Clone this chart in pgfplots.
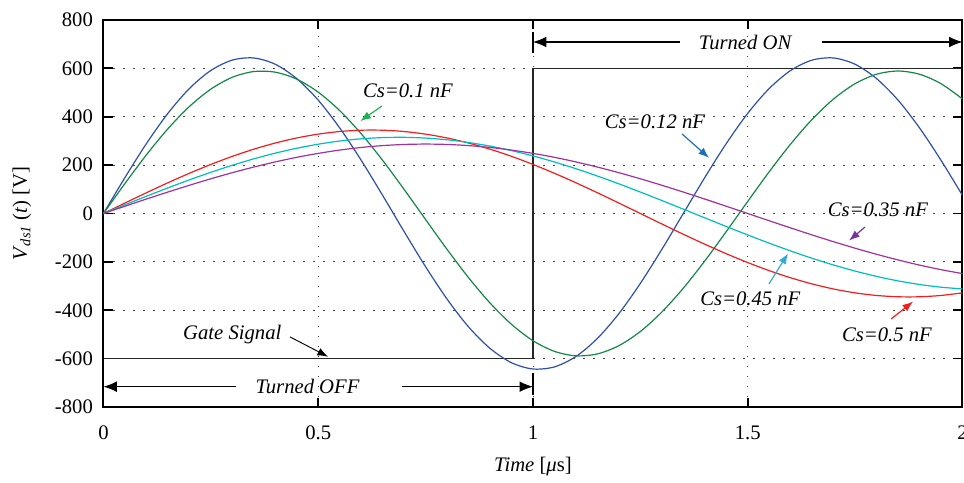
\documentclass[border=0pt]{standalone}
\usepackage{pgfplots}
\pgfplotsset{compat=1.18}
\usepackage{fontspec}
\setmainfont{Liberation Serif}
\usetikzlibrary{arrows.meta}
\definecolor{cblue}{RGB}{46,80,166}
\definecolor{cgreen}{RGB}{20,135,70}
\definecolor{cred}{RGB}{240,30,30}
\definecolor{ccyan}{RGB}{0,190,190}
\definecolor{cpurple}{RGB}{160,50,160}
\definecolor{agreen}{RGB}{30,180,80}
\definecolor{ablue}{RGB}{30,110,190}
\definecolor{apurple}{RGB}{120,50,160}
\definecolor{acyan}{RGB}{50,170,210}
\begin{document}
\fontsize{15.5}{18}\selectfont
\begin{tikzpicture}
\useasboundingbox (0,0) rectangle (723pt,361.5pt);
\begin{axis}[
  at={(77.6pt,56.25pt)}, anchor=south west,
  scale only axis, width=644.25pt, height=290.25pt,
  xmin=0, xmax=2, ymin=-800, ymax=800,
  xtick={0,0.5,1,1.5,2}, ytick={-800,-600,-400,-200,0,200,400,600,800},
  /pgf/number format/assume math mode=true,
  xticklabel style={yshift=-8.5pt, font=\fontsize{15.5}{18}\selectfont},
  yticklabel style={xshift=-2.6pt, font=\fontsize{15.5}{18}\selectfont},
  tick align=inside, major tick length=7pt,
  every tick/.style={black, line width=1.3pt},
  axis line style={black, line width=1.5pt},
  grid=major,
  major grid style={black!75, line width=0.6pt, dash pattern=on 0.8pt off 6.7pt},
  xlabel={\textit{Time} [\textit{μ}s]},
  xlabel style={at={(axis description cs:0.5,-0.153)}, anchor=center},
  ylabel={\textit{V}\textsubscript{\textit{ds1}} (\textit{t}) [V]},
  ylabel style={at={(axis description cs:-0.095,0.5)}, anchor=center},
]
\addplot[black!85, line width=0.8pt] coordinates {(0,-600) (1,-600) (1,600) (2,600)};

\addplot[cblue, line width=0.9pt, smooth] coordinates {(0,0) (0.05,148.5) (0.1,289.0) (0.15,414.0) (0.2,516.6) (0.25,591.3) (0.3,634.2) (0.35,642.9) (0.4,617.0) (0.45,557.7) (0.5,468.7) (0.55,353.9) (0.6,220.2) (0.65,74.8) (0.7,-74.8) (0.75,-220.2) (0.8,-353.9) (0.85,-468.7) (0.9,-557.7) (0.95,-617.0) (1.0,-642.9) (1.05,-634.2) (1.1,-591.3) (1.15,-516.6) (1.2,-414.0) (1.25,-289.0) (1.3,-148.5) (1.35,0) (1.4,148.5) (1.45,289.0) (1.5,414.0) (1.55,516.6) (1.6,591.3) (1.65,634.2) (1.7,642.9) (1.75,617.0) (1.8,557.7) (1.85,468.7) (1.9,353.9) (1.95,220.2) (2.0,74.8)};

\addplot[cgreen, line width=0.9pt, smooth] coordinates {(0,0) (0.05,124.1) (0.1,242.6) (0.15,350.2) (0.2,442.2) (0.25,514.2) (0.3,563.2) (0.35,586.9) (0.4,584.2) (0.45,555.4) (0.5,501.6) (0.55,425.4) (0.6,329.8) (0.65,219.6) (0.7,99.5) (0.75,-25.0) (0.8,-148.4) (0.85,-265.2) (0.9,-370.1) (0.95,-458.2) (1.0,-526.0) (1.05,-570.0) (1.1,-588.5) (1.15,-580.5) (1.2,-546.5) (1.25,-487.9) (1.3,-407.5) (1.35,-308.9) (1.4,-196.2) (1.45,-74.8) (1.5,49.9) (1.55,172.5) (1.6,287.3) (1.65,389.2) (1.7,473.5) (1.75,536.7) (1.8,575.7) (1.85,589.0) (1.9,575.7) (1.95,536.7) (2.0,473.5)};

\addplot[cred, line width=0.9pt, smooth] coordinates {(0,0) (0.05,43.2) (0.1,85.8) (0.15,127.0) (0.2,166.2) (0.25,202.8) (0.3,236.2) (0.35,265.8) (0.4,291.3) (0.45,312.2) (0.5,328.1) (0.55,338.9) (0.6,344.3) (0.65,344.3) (0.7,338.9) (0.75,328.1) (0.8,312.2) (0.85,291.3) (0.9,265.8) (0.95,236.2) (1.0,202.8) (1.05,166.2) (1.1,127.0) (1.15,85.8) (1.2,43.2) (1.25,0) (1.3,-43.2) (1.35,-85.8) (1.4,-127.0) (1.45,-166.2) (1.5,-202.8) (1.55,-236.2) (1.6,-265.8) (1.65,-291.3) (1.7,-312.2) (1.75,-328.1) (1.8,-338.9) (1.85,-344.3) (1.9,-344.3) (1.95,-338.9) (2.0,-328.1)};

\addplot[ccyan, line width=0.9pt, smooth] coordinates {(0,0) (0.05,35.9) (0.1,71.3) (0.15,105.9) (0.2,139.0) (0.25,170.3) (0.3,199.4) (0.35,225.9) (0.4,249.5) (0.45,269.7) (0.5,286.5) (0.55,299.6) (0.6,308.7) (0.65,313.8) (0.7,314.9) (0.75,311.8) (0.8,304.7) (0.85,293.5) (0.9,278.6) (0.95,260.0) (1.0,238.0) (1.05,213.0) (1.1,185.2) (1.15,154.9) (1.2,122.6) (1.25,88.7) (1.3,53.7) (1.35,18.0) (1.4,-18.0) (1.45,-53.7) (1.5,-88.7) (1.55,-122.6) (1.6,-154.9) (1.65,-185.2) (1.7,-213.0) (1.75,-238.0) (1.8,-260.0) (1.85,-278.6) (1.9,-293.5) (1.95,-304.7) (2.0,-311.8)};

\addplot[cpurple, line width=0.9pt, smooth] coordinates {(0,0) (0.05,30.0) (0.1,59.7) (0.15,88.7) (0.2,116.7) (0.25,143.5) (0.3,168.7) (0.35,192.0) (0.4,213.3) (0.45,232.2) (0.5,248.5) (0.55,262.2) (0.6,273.0) (0.65,280.7) (0.7,285.4) (0.75,287.0) (0.8,285.4) (0.85,280.7) (0.9,273.0) (0.95,262.2) (1.0,248.5) (1.05,232.2) (1.1,213.3) (1.15,192.0) (1.2,168.7) (1.25,143.5) (1.3,116.7) (1.35,88.7) (1.4,59.7) (1.45,30.0) (1.5,0) (1.55,-30.0) (1.6,-59.7) (1.65,-88.7) (1.7,-116.7) (1.75,-143.5) (1.8,-168.7) (1.85,-192.0) (1.9,-213.3) (1.95,-232.2) (2.0,-248.5)};

% Turned ON / OFF
\draw[black, line width=0.9pt, {Latex[length=10pt,width=8pt]}-] (axis cs:1,709) -- (axis cs:1.343,709);
\draw[black, line width=0.9pt, -{Latex[length=10pt,width=8pt]}] (axis cs:1.672,709) -- (axis cs:2,709);
\node[font=\itshape] at (axis cs:1.494,709) {Turned ON};
\draw[black, line width=0.9pt] (axis cs:1,664) -- (axis cs:1,750);
\draw[black, line width=0.9pt] (axis cs:2,664) -- (axis cs:2,750);
\draw[black, line width=0.9pt, {Latex[length=10pt,width=8pt]}-] (axis cs:0,-716) -- (axis cs:0.309,-716);
\draw[black, line width=0.9pt, -{Latex[length=10pt,width=8pt]}] (axis cs:0.695,-716) -- (axis cs:1,-716);
\node[font=\itshape] at (axis cs:0.475,-716) {Turned OFF};
\draw[black, line width=0.9pt] (axis cs:1,-660) -- (axis cs:1,-752);

% Gate signal
\node[font=\itshape] at (axis cs:0.30,-500) {Gate Signal};
\draw[black, line width=0.7pt, -{Latex[length=8pt,width=6pt]}] (axis cs:0.434,-510) -- (axis cs:0.523,-592);

% Cs labels
\node[font=\itshape] at (axis cs:0.709,506) {Cs=0.1 nF};
\draw[agreen, line width=0.9pt, -{Latex[length=8pt,width=6pt]}] (axis cs:0.648,444) -- (axis cs:0.598,382);
\node[font=\itshape] at (axis cs:1.284,378) {Cs=0.12 nF};
\draw[ablue, line width=0.9pt, -{Latex[length=8pt,width=6pt]}] (axis cs:1.347,329) -- (axis cs:1.41,230);
\node[font=\itshape] at (axis cs:1.803,14) {Cs=0.35 nF};
\draw[apurple, line width=0.9pt, -{Latex[length=8pt,width=6pt]}] (axis cs:1.773,-56) -- (axis cs:1.736,-112);
\node[font=\itshape] at (axis cs:1.506,-351) {Cs=0.45 nF};
\draw[acyan, line width=0.9pt, -{Latex[length=8pt,width=6pt]}] (axis cs:1.5495,-291) -- (axis cs:1.594,-165);
\node[font=\itshape] at (axis cs:1.824,-502) {Cs=0.5 nF};
\draw[cred, line width=0.9pt, -{Latex[length=8pt,width=6pt]}] (axis cs:1.834,-436) -- (axis cs:1.885,-364);
\end{axis}
\end{tikzpicture}
\end{document}
